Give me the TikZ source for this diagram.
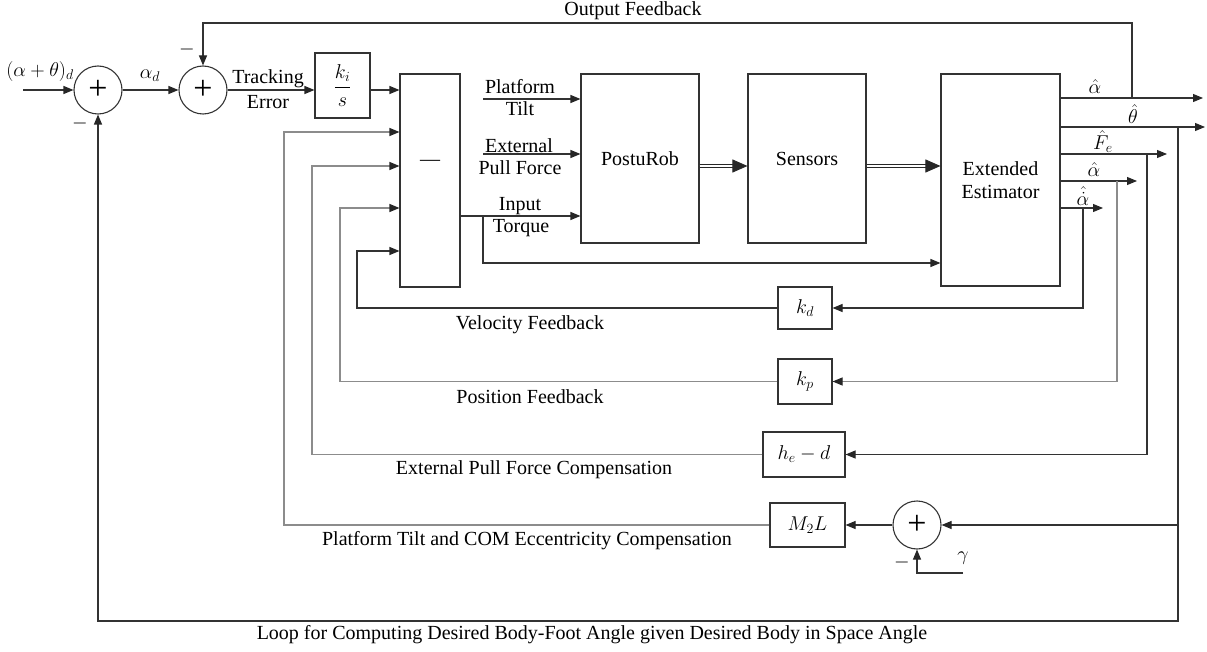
\documentclass[tikz,border=0pt]{standalone}
\usepackage{fix-cm}
\usepackage{amsmath}
\usepackage{fontspec}
\setmainfont{Liberation Serif}
\usetikzlibrary{arrows.meta,calc}
\begin{document}
\begin{tikzpicture}[x=1pt,y=-1pt,
  every node/.style={font=\fontsize{20}{23}\selectfont},
  ln/.style={line width=1.1pt, draw=black!80},
  lg/.style={line width=1.1pt, draw=black!45},
  arr/.style={-{Triangle[length=10pt,width=8pt,color=black!85]}},
  bigarr/.style={-{Triangle[length=15pt,width=13pt]}, line width=0.8pt, draw=black!85},
  dbl/.style={line width=0.8pt, draw=black!85, double=white, double distance=1.6pt},
  blk/.style={draw=black!80, line width=1.1pt, rectangle, inner sep=0pt},
  sumc/.style={draw=black!80, line width=1.1pt, circle, minimum size=48pt, inner sep=0pt},
  lbl/.style={inner sep=0pt, align=center},
]
\useasboundingbox (0,0) rectangle (1207,652);

% ---- blocks ----
\node[sumc] (s1) at (98,90) {\fontsize{34}{34}\selectfont +};
\node[sumc] (s2) at (203,90) {\fontsize{34}{34}\selectfont +};
\node[blk, minimum width=55pt, minimum height=65pt] (ki) at (342.5,85.5) {$\displaystyle\frac{k_i}{s}$};
\node[blk, minimum width=60pt, minimum height=213pt] (mb) at (430,180.5) {};
\node[lbl] (mbt) at (430,163) {---};
\node[blk, minimum width=118pt, minimum height=169pt] (post) at (640,158.5) {PostuRob};
\node[blk, minimum width=118pt, minimum height=169pt] (sens) at (807,158.5) {Sensors};
\node[blk, minimum width=119pt, minimum height=212pt, align=center] (est) at (1000.5,180) {Extended\\Estimator};
\node[blk, minimum width=54pt, minimum height=42pt] (kd) at (805,308) {$k_d$};
\node[blk, minimum width=54pt, minimum height=45pt] (kp) at (805,381.5) {$k_p$};
\node[blk, minimum width=82pt, minimum height=45pt] (he) at (804,454.5) {$h_e-d$};
\node[blk, minimum width=75pt, minimum height=44pt] (m2l) at (807.5,525) {$M_2L$};
\node[sumc] (s3) at (917,525) {\fontsize{34}{34}\selectfont +};

% ---- coordinates ----
\coordinate (in) at (23,90);
\coordinate (top) at (0,23);
\coordinate (bot) at (0,621);
\coordinate (tq) at (483,216);
\coordinate (tqd) at (483,263);
\coordinate (pt) at (483,99);
\coordinate (ef) at (483,154);
\coordinate (dy) at (0,166);
\coordinate (o1) at (1203,98);
\coordinate (o2) at (1205,127);
\coordinate (o3) at (1167,154);
\coordinate (o4) at (1137,181);
\coordinate (o5) at (1103,208);
\coordinate (j1) at (1132,98);
\coordinate (j2) at (1178,127);
\coordinate (j3) at (1147,154);
\coordinate (j4) at (1117,181);
\coordinate (j5) at (1083,208);
\coordinate (in1) at (357,251);
\coordinate (in2) at (340,208);
\coordinate (in3) at (312,166);
\coordinate (in4) at (284,132);
\coordinate (g) at (963,573);

% ---- forward path ----
\draw[ln,arr] (in) -- (s1);
\draw[ln,arr] (s1) -- (s2);
\draw[ln,arr] (s2.east) -- (s2.east -| ki.west);
\draw[ln,arr] (ki.east |- s2.east) -- (mb.west |- s2.east);
\draw[ln,arr] (mb.east |- tq) -- (post.west |- tq);
\draw[ln,arr] (tq) -- (tqd) -- (est.west |- tqd);
\draw[ln,arr] (pt) -- (post.west |- pt);
\draw[ln,arr] (ef) -- (post.west |- ef);
\draw[dbl] (post.east |- dy) -- ($(sens.west |- dy)+(-13,0)$);
\draw[bigarr] ($(sens.west |- dy)+(-14,0)$) -- (sens.west |- dy);
\draw[dbl] (sens.east |- dy) -- ($(est.west |- dy)+(-13,0)$);
\draw[bigarr] ($(est.west |- dy)+(-14,0)$) -- (est.west |- dy);

% ---- estimator outputs ----
\draw[ln,arr] (est.east |- o1) -- (o1);
\draw[ln,arr] (est.east |- o2) -- (o2);
\draw[ln,arr] (est.east |- o3) -- (o3);
\draw[ln,arr] (est.east |- o4) -- (o4);
\draw[ln,arr] (est.east |- o5) -- (o5);

% ---- feedback ----
\draw[ln,arr] (j1) -- (j1 |- top) -- (s2 |- top) -- (s2.north);
\draw[ln,arr] (j2) -- (j2 |- bot) -- (s1 |- bot) -- (s1.south);
\draw[ln,arr] (j2 |- s3) -- (s3.east);
\draw[ln,arr] (j3) -- (j3 |- he) -- (he.east);
\draw[lg,arr] (j4) -- (j4 |- kp) -- (kp.east);
\draw[ln,arr] (j5) -- (j5 |- kd) -- (kd.east);
\draw[ln,arr] (kd.west) -- (in1 |- kd) -- (in1) -- (mb.west |- in1);
\draw[lg,arr] (kp.west) -- (in2 |- kp) -- (in2) -- (mb.west |- in2);
\draw[lg,arr] (he.west) -- (in3 |- he) -- (in3) -- (mb.west |- in3);
\draw[lg,arr] (m2l.west) -- (in4 |- m2l) -- (in4) -- (mb.west |- in4);
\draw[ln,arr] (s3.west) -- (m2l.east);
\draw[ln,arr] (g) -- (s3 |- g) -- (s3.south);

% ---- labels ----
\node[lbl] (lof) at (633,11) {Output Feedback};
\node[lbl] (lin) at (40,72) {$(\alpha+\theta)_d$};
\node[lbl] (lad) at (150,76) {$\alpha_d$};
\node[lbl] (m1) at (80,124) {$-$};
\node[lbl] (m2) at (187,50) {$-$};
\node[lbl] (m3) at (902,562) {$-$};
\node[lbl] (lgam) at (963,558) {$\gamma$};
\node[lbl] (ltr) at (268,79) {Tracking};
\node[lbl] (ler) at (268,102) {Error};
\node[lbl] (lpt1) at (520,87) {Platform};
\node[lbl] (lpt2) at (520,109) {Tilt};
\node[lbl] (lef1) at (519,146) {External};
\node[lbl] (lef2) at (520,168) {Pull Force};
\node[lbl] (lit1) at (520,206) {Input};
\node[lbl] (lit2) at (521,228) {Torque};
\node[lbl] (la1) at (1095,87) {$\hat{\alpha}$};
\node[lbl] (lth) at (1133,114) {$\hat{\theta}$};
\node[lbl] (lfe) at (1103,142) {$\hat{F}_e$};
\node[lbl] (la2) at (1094,170) {$\hat{\alpha}$};
\node[lbl] (la3) at (1083,196) {$\hat{\dot{\alpha}}$};
\node[lbl] (lvf) at (530,325) {Velocity Feedback};
\node[lbl] (lpf) at (530,397) {Position Feedback};
\node[lbl] (lepf) at (534,470) {External Pull Force Compensation};
\node[lbl] (lptc) at (527,541) {Platform Tilt and COM Eccentricity Compensation};
\node[lbl] (lloop) at (592,635) {Loop for Computing Desired Body-Foot Angle given Desired Body in Space Angle};
\end{tikzpicture}
\end{document}
